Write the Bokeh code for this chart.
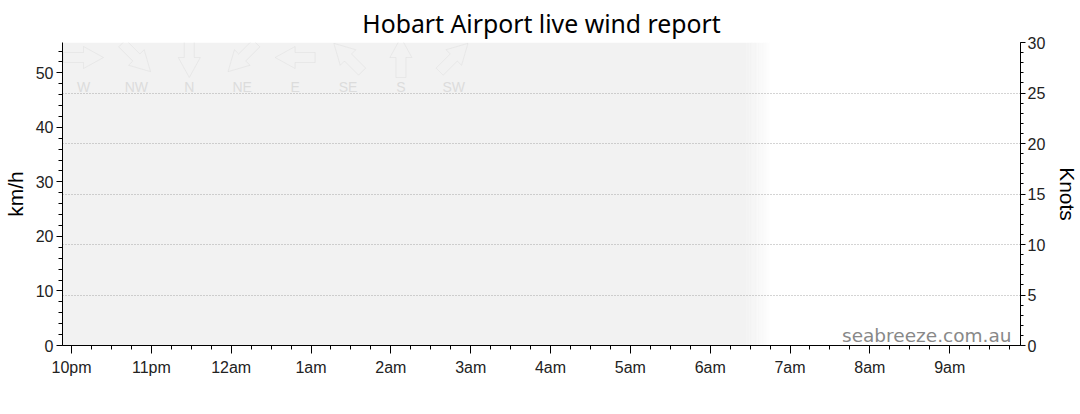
import numpy as np
from bokeh.plotting import figure
from bokeh.models import Range1d, LinearAxis, FixedTicker, Grid, Label, PolyAnnotation
from bokeh.core.properties import value
from bokeh.embed import file_html
from bokeh.resources import INLINE

# ---------------- data ----------------
TITLE = "Hobart Airport live wind report"
HOUR_TICKS = list(range(12))  # hours after 10pm
HOUR_LABELS = ["10pm", "11pm", "12am", "1am", "2am", "3am",
               "4am", "5am", "6am", "7am", "8am", "9am"]
X_START = -0.113   # ~21:53
X_END = 11.887     # ~09:53
KMH_TICKS = [0, 10, 20, 30, 40, 50]
KNOT_TICKS = [0, 5, 10, 15, 20, 25, 30]
KNOT_GRID = [5, 10, 15, 20, 25]
KNOTS_MAX = 30
KMH_PER_KNOT = 1.852
NIGHT_END = 8.45   # night shading until ~6:27am
FADE_END = 8.77    # fades out by ~6:46am
DIRECTIONS = ["W", "NW", "N", "NE", "E", "SE", "S", "SW"]
BEARINGS = [270, 315, 0, 45, 90, 135, 180, 225]
WATERMARK = "seabreeze.com.au"

# ---------------- layout ----------------
FW, FH = 958, 303
KMH_MAX = KNOTS_MAX * KMH_PER_KNOT
PXH = FW / (X_END - X_START)
PXK = FH / KMH_MAX
AXIS_FONT = "Liberation Sans"

p = figure(frame_width=FW, frame_height=FH,
           min_border_left=57, min_border_right=57,
           min_border_top=40, min_border_bottom=58,
           x_range=Range1d(X_START, X_END), y_range=Range1d(0, KMH_MAX),
           output_backend="svg", toolbar_location=None,
           background_fill_color="white", border_fill_color="white")
p.outline_line_color = None
p.xgrid.visible = False
p.ygrid.visible = False

p.title.text = TITLE
p.title.text_font = "Noto Sans"
p.title.text_font_size = "24.8px"
p.title.text_font_style = "normal"
p.title.align = "center"
p.title.text_color = "#000000"
p.title.standoff = 6

# night shading with fade
p.quad(left=[X_START], right=[NIGHT_END], bottom=[0], top=[KMH_MAX],
       fill_color="#f2f2f2", line_color=None, level="image")
n = 16
edges = np.linspace(NIGHT_END, FADE_END, n + 1)
alphas = 1 - (np.arange(n) + 0.5) / n
p.quad(left=edges[:-1], right=edges[1:] + 0.002, bottom=0, top=KMH_MAX,
       fill_color="#f2f2f2", fill_alpha=alphas, line_color=None, level="image")

# knots range and grid
p.extra_y_ranges = {"knots": Range1d(0, KNOTS_MAX)}
grid = Grid(dimension=1, ticker=FixedTicker(ticks=KNOT_GRID), y_range_name="knots",
            grid_line_color="#a8a8a8", grid_line_dash="1 2", grid_line_width=1,
            level="underlay")
p.add_layout(grid)

# direction arrows
shape = [(-20, -5), (0, -5), (0, -11), (20, 0), (0, 11), (0, 5), (-20, 5)]
lab_x, lab_y = [], []
for i, (d, b) in enumerate(zip(DIRECTIONS, BEARINGS)):
    cx = X_START + (21 + i * 52.9) / PXH
    cy = KMH_MAX - 15 / PXK
    ang = np.deg2rad(b + 180)
    dx, dy = np.sin(ang), np.cos(ang)
    px, py = -dy, dx
    xs = [cx + (u * dx + v * px) / PXH for u, v in shape]
    ys = [cy + (u * dy + v * py) / PXK for u, v in shape]
    p.add_layout(PolyAnnotation(xs=xs, ys=ys, fill_alpha=0, line_color="#d0d0d0",
                                line_width=1))
    lab_x.append(cx)
    lab_y.append(KMH_MAX - 44 / PXK)
p.text(x=lab_x, y=lab_y, text=DIRECTIONS, text_align="center",
       text_baseline="alphabetic", text_color="#dcdcdc",
       text_font=value(AXIS_FONT), text_font_size="14px")

# axes
def style(ax, major_out, minor_out):
    ax.axis_line_color = "black"
    ax.major_tick_line_color = "black"
    ax.minor_tick_line_color = "black"
    ax.major_tick_in = 0
    ax.minor_tick_in = 0
    ax.major_tick_out = major_out
    ax.minor_tick_out = minor_out
    ax.major_label_text_font = AXIS_FONT
    ax.major_label_text_font_size = "16px"
    ax.major_label_text_color = "#222222"
    ax.axis_label_text_font = AXIS_FONT
    ax.axis_label_text_font_size = "21px"
    ax.axis_label_text_font_style = "normal"
    ax.axis_label_text_color = "#000000"

xa = p.xaxis[0]
xa.ticker = FixedTicker(ticks=HOUR_TICKS, minor_ticks=list(np.arange(0, 12, 0.25)))
xa.major_label_overrides = {t: l for t, l in zip(HOUR_TICKS, HOUR_LABELS)}
style(xa, 8, 4)
xa.major_label_standoff = 5

ya = p.yaxis[0]
ya.ticker = FixedTicker(ticks=KMH_TICKS, minor_ticks=list(range(0, 56, 2)))
style(ya, 6, 4)
ya.axis_label = "km/h"
ya.major_label_standoff = 3
ya.axis_label_standoff = 6

ra = LinearAxis(y_range_name="knots", axis_label="Knots",
                ticker=FixedTicker(ticks=KNOT_TICKS, minor_ticks=list(range(0, 31))))
style(ra, 5, 3)
ra.major_label_standoff = 2
ra.axis_label_standoff = 8
p.add_layout(ra, "right")

p.add_layout(Label(x=X_END, y=0, x_offset=-9, y_offset=10, text=WATERMARK,
                   text_align="right", text_baseline="alphabetic",
                   text_color="#888888", text_font="DejaVu Sans",
                   text_font_size="18.5px"))

open("out.html", "w").write(file_html(p, INLINE))
